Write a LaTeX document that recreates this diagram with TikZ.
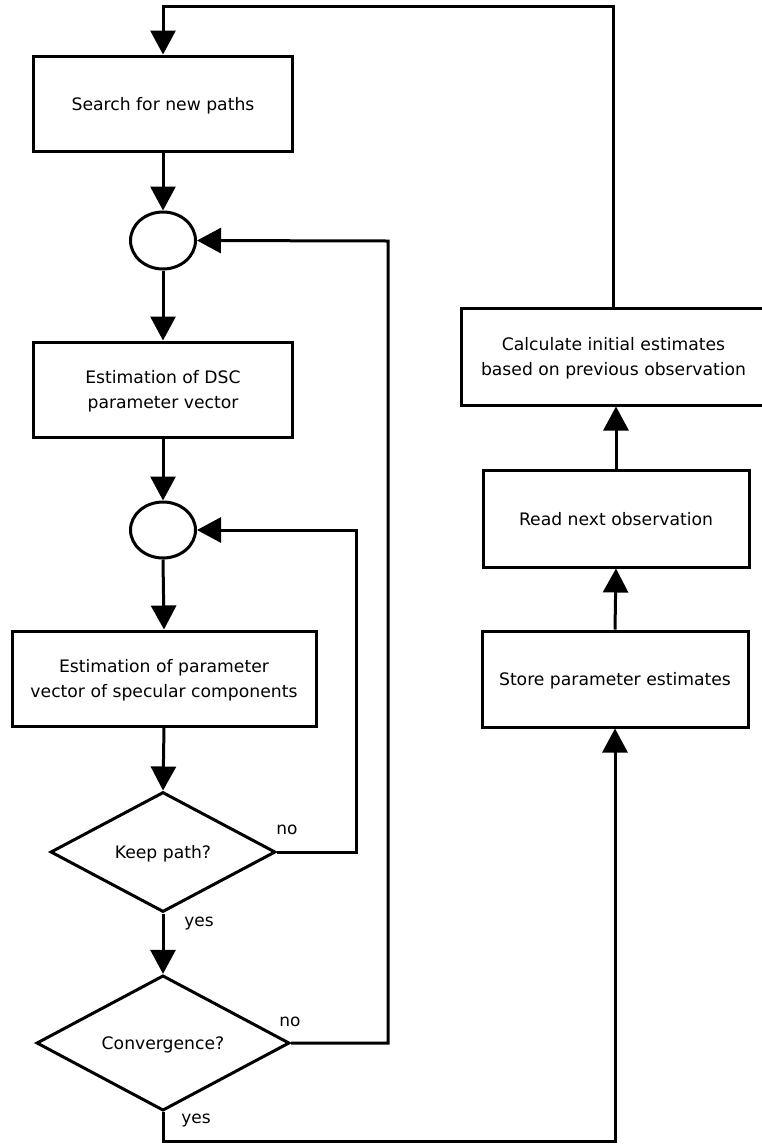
\documentclass[tikz,border=0pt]{standalone}
\usepackage{fontspec}
\setmainfont{DejaVu Sans}
\usetikzlibrary{arrows.meta,shapes.geometric}

\begin{document}
\begin{tikzpicture}[x=1pt,y=-1pt,
  every node/.style={font=\fontsize{17.2}{25}\selectfont, inner sep=0pt},
  stepbox/.style={draw, line width=3pt, rectangle, align=center, text depth=-3pt},
  joint/.style={draw, line width=3pt, ellipse, minimum width=65pt, minimum height=57pt},
  decision/.style={draw, line width=3pt, diamond, text depth=-3pt},
  link/.style={line width=3pt, line join=miter},
  arr/.style={link, -{Triangle[length=24pt,width=25pt]}},
  lbl/.style={font=\fontsize{17}{20}\selectfont}]
\useasboundingbox (0,0) rectangle (762,1144);

% main column
\node[stepbox, minimum width=259pt, minimum height=95pt] (search) at (163,103.5) {Search for new paths};
\node[joint] (j1) at (163,240.5) {};
\node[stepbox, minimum width=259pt, minimum height=95pt] (dsc) at (163,389.5) {Estimation of DSC\\parameter vector};
\node[joint, minimum height=56pt] (j2) at (163,530) {};
\node[stepbox, minimum width=304pt, minimum height=95pt] (spec) at (164,678.5) {Estimation of parameter\\vector of specular components};
\node[decision, minimum width=225pt, minimum height=120pt] (keep) at (163,852) {Keep path?};
\node[decision, minimum width=253pt, minimum height=135pt] (conv) at (163,1043) {Convergence?};

% right column
\node[stepbox, minimum width=305pt, minimum height=97pt] (calc) at (613.5,356.5) {Calculate initial estimates\\based on previous observation};
\node[stepbox, minimum width=266pt, minimum height=97pt] (read) at (616,518.5) {Read next observation};
\node[stepbox, minimum width=266pt, minimum height=96pt] (store) at (615,679) {Store parameter estimates};

% routing points
\coordinate (topl) at (163,6);
\coordinate (loopa) at (356,530);
\coordinate (loopb) at (388,241);
\coordinate (botr) at (615,1141);

% forward flow
\draw[arr] (search.south) -- (j1.north);
\draw[arr] (j1.south) -- (dsc.north);
\draw[arr] (dsc.south) -- (j2.north);
\draw[arr] (j2.south) -- (spec.north);
\draw[arr] (spec.south) -- (keep.north);
\draw[arr] (keep.south) -- (conv.north);

% feedback loops
\draw[arr] (keep.east) -| (loopa) -- (j2.east);
\draw[arr] (conv.east) -| (loopb) -- (j1.east);

% exit path through the right column
\draw[arr] (conv.south) |- (botr) -- (store.south);
\draw[arr] (store.north) -- (read.south);
\draw[arr] (read.north) -- (read.north |- calc.south);
\draw[arr] (calc.north) |- (topl) -- (search.north);

% branch labels
\node[lbl] (kno) at (287,830) {no};
\node[lbl] (kyes) at (199,923) {yes};
\node[lbl] (cno) at (290,1022) {no};
\node[lbl] (cyes) at (196,1120) {yes};
\end{tikzpicture}
\end{document}
